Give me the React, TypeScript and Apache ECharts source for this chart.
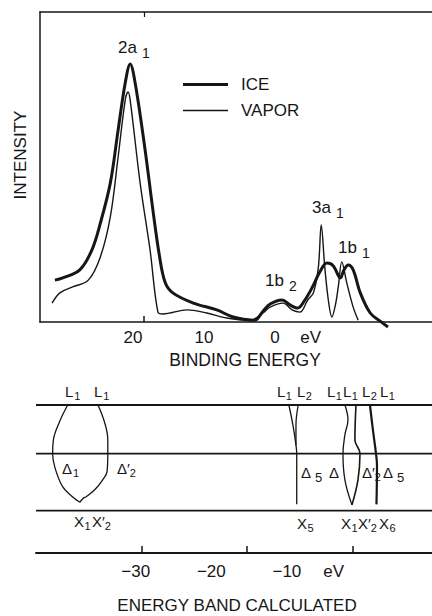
import React, { useEffect, useRef } from 'react';
import * as echarts from 'echarts';

const FONT = '"Liberation Sans", Arial, Helvetica, sans-serif';
const INK = '#161616';

// ---------- Top panel: photoemission spectra ----------
const iceBindingEnergy = [31.0, 29.9, 27.5, 25.8, 24.6, 23.2, 22.1, 21.1, 20.4, 19.7, 18.3, 17.2, 16.3, 15.5, 14.4, 11.5, 8.2, 5.9, 3.1, 2.8, 1.7, 0.7, -1.0, -2.1, -3.2, -4.2, -5.2, -6.3, -7.3, -8.2, -9.2, -9.7, -10.3, -11.0, -12.0, -13.4, -14.8, -15.9];
const iceIntensity = [13.5, 14.2, 16.8, 23.2, 31.9, 44.8, 61.9, 77.1, 83.2, 77.1, 55.5, 36.1, 21.6, 12.9, 9.4, 6.1, 3.9, 1.6, 0.6, 0.6, 3.5, 5.8, 7.1, 5.5, 4.5, 7.1, 11.0, 16.1, 19.0, 18.1, 14.2, 16.8, 18.4, 16.8, 9.4, 2.9, 0.3, -1.6];

const vaporBindingEnergy = [31.4, 30.3, 28.5, 26.3, 24.6, 23.2, 22.1, 21.1, 20.7, 20.4, 19.0, 17.6, 16.5, 15.8, 12.4, 9.6, 6.8, 3.5, 1.7, 0.7, -1.1, -2.4, -3.5, -4.6, -5.4, -6.1, -6.5, -7.0, -7.5, -8.0, -8.5, -8.9, -9.4, -10.1, -11.0, -11.7];
const vaporIntensity = [6.1, 9.4, 11.3, 13.5, 21.0, 33.9, 53.2, 71.6, 74.2, 71.6, 44.8, 23.2, 3.2, 2.6, 3.9, 2.9, 1.3, 0.6, 2.9, 4.8, 6.1, 3.9, 3.2, 7.1, 9.4, 17.7, 31.3, 17.7, 7.1, 1.6, 5.5, 11.3, 19.4, 12.6, 4.8, 0.6];

const spectrumLabelValues = [20, 10, 0, -5]; // -5 position carries the unit "eV"
const spectrumTickValues = [18.45];
const spectrumMin = -22.1;
const spectrumMax = 33.1;

// ---------- Bottom panel: calculated energy bands ----------
const levelNames = ['L', 'Δ', 'X'];
const levelK = [1, 0.54, 0];
const bandMin = -43.2;
const bandMax = 9.2;
const bandLabelValues = [-30, -20, -10, -3.8]; // -3.8 position carries "eV"
const bandTickValues = [-29.2, -15.3, -1.3];

const bandDelta1 = [[-39.0, 1], [-40.1, 0.84], [-40.9, 0.67], [-41.0, 0.54], [-40.7, 0.41], [-39.7, 0.23], [-38.5, 0.14], [-37.4, 0.08]];
const bandDelta2p = [[-35.0, 1], [-34.1, 0.83], [-33.7, 0.67], [-33.7, 0.54], [-33.8, 0.37], [-34.4, 0.29], [-35.4, 0.2], [-36.6, 0.13], [-36.9, 0.12], [-37.4, 0.08]];
const bandDelta5a = [[-9.74, 1], [-9.2, 0.81], [-8.8, 0.62], [-8.7, 0.54], [-8.7, 0.06]];
const bandDelta5b = [[-8.5, 1], [-8.8, 0.81], [-8.8, 0.62]];
const bandDeltaA = [[-2.32, 1], [-1.92, 0.86], [-2.32, 0.72], [-2.58, 0.54], [-2.32, 0.29], [-1.39, 0.055]];
const bandDeltaB = [[-0.86, 1], [-1.0, 0.67], [-0.33, 0.54], [-0.6, 0.29], [-1.39, 0.055]];
const bandDelta2b = [[0.99, 1], [1.39, 0.76], [1.79, 0.54], [1.92, 0.43], [1.85, 0.06]];

const zip = (a: number[], b: number[]) => a.map((v, i) => [v, b[i]]);

// annotation layout: [left, centerY, main, sub, mainSize, subSize, subGap]
type Lab = [number, number, string, string, number, number, number];
const labels: Lab[] = [
  [118, 47, '2a', '1', 17, 14, 5],
  [312, 207, '3a', '1', 17, 14, 5],
  [338, 247, '1b', '1', 17, 14, 5],
  [265, 280, '1b', '2', 17, 14, 5],
  [65, 391, 'L', '1', 15, 11, 1],
  [94, 391, 'L', '1', 15, 11, 1],
  [277, 391, 'L', '1', 15, 11, 0.5],
  [297, 391, 'L', '2', 15, 11, 0.5],
  [327, 391, 'L', '1', 15, 11, 0.5],
  [343, 391, 'L', '1', 15, 11, 0.5],
  [362, 391, 'L', '2', 15, 11, 0.5],
  [380, 391, 'L', '1', 15, 11, 0.5],
  [62, 468, 'Δ', '1', 15, 11, 1],
  [117, 468, 'Δ\u2032', '2', 15, 11, 0],
  [301, 472, 'Δ', '5', 15, 13, 4],
  [329, 472, 'Δ', '', 15, 11, 0],
  [362, 472, 'Δ\u2032', '2', 15, 11, 0],
  [383, 472, 'Δ', '5', 15, 13, 4],
  [74, 521, 'X', '1', 15, 11, 0.5],
  [92, 521, 'X\u2032', '2', 15, 11, 0],
  [297, 523, 'X', '5', 15, 11, 0.5],
  [341, 523, 'X', '1', 15, 11, 0.5],
  [358, 523, 'X\u2032', '2', 15, 11, 0],
  [379, 523, 'X', '6', 15, 11, 0.5],
];

function measure(text: string, size: number) {
  const c = document.createElement('canvas').getContext('2d');
  if (!c) return text.length * size * 0.6;
  c.font = `${size}px ${FONT}`;
  return c.measureText(text).width;
}

function labelGraphics() {
  const out: any[] = [];
  labels.forEach(([x, y, main, sub, ms, ss, gap]) => {
    out.push({ type: 'text', x, y, style: { text: main, fill: INK, fontSize: ms, fontFamily: FONT, align: 'left', verticalAlign: 'middle' } });
    if (sub) {
      const sx = x + measure(main, ms) + gap;
      out.push({ type: 'text', x: sx, y: y + (ms >= 17 ? 6 : 5), style: { text: sub, fill: INK, fontSize: ss, fontFamily: FONT, align: 'left', verticalAlign: 'middle' } });
    }
  });
  return out;
}

// legend icons: a bar of the stroke width inside a 45x13 box
const iceIcon = 'path://M0,5H45V8H0Z M0,0H0.01 M0,13H0.01';
const vaporIcon = 'path://M0,5.8H45V7.2H0Z M0,0H0.01 M0,13H0.01';

export default function App() {
  const ref = useRef<HTMLDivElement>(null);
  useEffect(() => {
    document.body.style.margin = '0';
    const chart = echarts.init(ref.current!, null, { renderer: 'svg' });
    const thinLine = (name: string, data: number[][], width = 1.3) => ({
      name, type: 'line', xAxisIndex: 2, yAxisIndex: 1, data, symbol: 'none', smooth: 0.4, clip: false,
      lineStyle: { color: INK, width }, silent: true,
    });
    const option: any = {
      animation: false,
      backgroundColor: '#ffffff',
      textStyle: { fontFamily: FONT },
      grid: [
        { left: 40, top: 12, right: 0, height: 310 },
        { left: 36, top: 405, right: 0, height: 148 },
      ],
      legend: {
        data: [{ name: 'ICE', icon: iceIcon }, { name: 'VAPOR', icon: vaporIcon }],
        orient: 'vertical', left: 183, top: 76, itemWidth: 45, itemHeight: 13, itemGap: 9, padding: 0,
        itemStyle: { borderWidth: 0, color: INK },
        textStyle: { fontSize: 17, color: INK, fontFamily: FONT, padding: [0, 0, 0, 8] },
      },
      xAxis: [
        {
          gridIndex: 0, type: 'value', inverse: true, min: spectrumMin, max: spectrumMax,
          axisLine: { onZero: false, lineStyle: { color: INK, width: 1.5 } },
          axisTick: { show: true, inside: true, length: 6, customValues: spectrumTickValues, lineStyle: { color: INK, width: 1.5 } },
          axisLabel: { customValues: spectrumLabelValues, formatter: (v: number) => (v === -5 ? 'eV' : String(v)), fontSize: 17, color: INK, fontFamily: FONT, margin: 7 },
          splitLine: { show: false },
        },
        {
          gridIndex: 0, type: 'value', position: 'top', inverse: true, min: spectrumMin, max: spectrumMax,
          axisLine: { onZero: false, lineStyle: { color: INK, width: 1.5 } },
          axisTick: { show: true, inside: true, length: 5, customValues: spectrumTickValues, lineStyle: { color: INK, width: 1.2 } },
          axisLabel: { show: false }, splitLine: { show: false },
        },
        {
          gridIndex: 1, type: 'value', min: bandMin, max: bandMax,
          axisLine: { onZero: false, lineStyle: { color: INK, width: 2 } },
          axisTick: { show: true, inside: true, length: 7, customValues: bandTickValues, lineStyle: { color: INK, width: 1.5 } },
          axisLabel: { customValues: bandLabelValues, formatter: (v: number) => (v === -3.8 ? 'eV' : '\u2212' + Math.abs(v)), fontSize: 17, color: INK, fontFamily: FONT, margin: 10 },
          splitLine: { show: false },
        },
      ],
      yAxis: [
        { gridIndex: 0, type: 'value', min: 0, max: 100, axisLine: { show: true, onZero: false, lineStyle: { color: INK, width: 1.5 } }, axisTick: { show: false }, axisLabel: { show: false }, splitLine: { show: false } },
        { gridIndex: 1, type: 'value', min: -0.4, max: 1, show: false },
      ],
      series: [
        { name: 'ICE', type: 'line', xAxisIndex: 0, yAxisIndex: 0, data: zip(iceBindingEnergy, iceIntensity), symbol: 'none', smooth: 0.35, clip: false, lineStyle: { color: INK, width: 3 }, itemStyle: { color: INK } },
        { name: 'VAPOR', type: 'line', xAxisIndex: 0, yAxisIndex: 0, data: zip(vaporBindingEnergy, vaporIntensity), symbol: 'none', smooth: 0.35, clip: false, lineStyle: { color: INK, width: 1.4 }, itemStyle: { color: INK } },
        ...levelNames.map((n, i) => thinLine('level ' + n, [[bandMin, levelK[i]], [bandMax, levelK[i]]], 1.8)),
        thinLine('Δ1', bandDelta1),
        thinLine('Δ2\u2032', bandDelta2p),
        thinLine('Δ5', bandDelta5a),
        thinLine('Δ5b', bandDelta5b),
        thinLine('Δ', bandDeltaA),
        thinLine('Δb', bandDeltaB, 1.6),
        thinLine('Δ2\u2032b', bandDelta2b, 2.2),
      ],
      graphic: [
        { type: 'text', x: 20, y: 155, rotation: Math.PI / 2, style: { text: 'INTENSITY', fill: INK, fontSize: 17, fontFamily: FONT, align: 'center', verticalAlign: 'middle' } },
        { type: 'text', x: 245, y: 360, style: { text: 'BINDING ENERGY', fill: INK, fontSize: 17.5, fontFamily: FONT, align: 'center', verticalAlign: 'middle' } },
        { type: 'text', x: 237, y: 605, style: { text: 'ENERGY BAND CALCULATED', fill: INK, fontSize: 17, fontFamily: FONT, align: 'center', verticalAlign: 'middle' } },
        ...labelGraphics(),
      ],
    };
    chart.setOption(option);
    return () => chart.dispose();
  }, []);
  return <div ref={ref} style={{ width: 432, height: 616 }} />;
}
